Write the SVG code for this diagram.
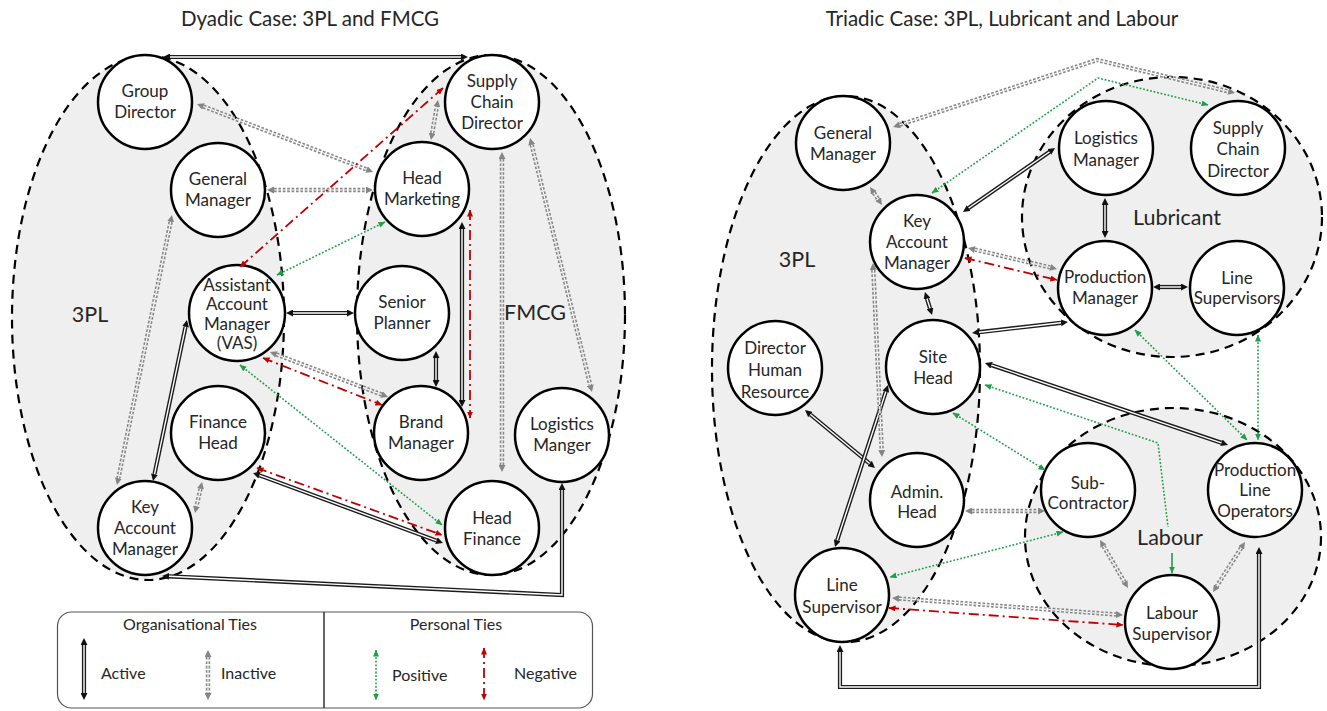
<svg xmlns="http://www.w3.org/2000/svg" width="1327" height="711" viewBox="0 0 1327 711">
<style>
text{font-family:Lato,"Open Sans","Liberation Sans",sans-serif;fill:#262626}
.t{font-size:20.5px;text-anchor:middle}
.g{font-size:21.5px;text-anchor:middle}
.n text{font-size:17px;text-anchor:middle}
.n circle{fill:#fff;stroke:#000;stroke-width:2.5}
.cl{fill:#efefef;stroke:#000;stroke-width:2.2;stroke-dasharray:9 6}
.act .o{fill:none;stroke:#1c1c1c;stroke-width:4.2;marker-start:url(#mk);marker-end:url(#mk)}
.act .i{fill:none;stroke:#fff;stroke-width:1.4}
.ina .o{fill:none;stroke:#858585;stroke-width:4.4;stroke-dasharray:2.6 1.8;marker-start:url(#mg);marker-end:url(#mg)}
.ina .i{fill:none;stroke:#fff;stroke-width:1.2;stroke-dasharray:2.6 1.8}
.pos{fill:none;stroke:#1f9e4a;stroke-width:1.6;stroke-dasharray:1.8 1.8;marker-start:url(#mp);marker-end:url(#mp)}
.neg{fill:none;stroke:#c00000;stroke-width:1.8;stroke-dasharray:10 4 2 4;marker-start:url(#mn);marker-end:url(#mn)}
.lg{font-size:16px}
</style>
<defs>
<marker id="mk" viewBox="0 0 7 7" refX="0" refY="3.5" markerWidth="7" markerHeight="7" markerUnits="userSpaceOnUse" orient="auto-start-reverse"><path d="M0,0 L7,3.5 L0,7Z" fill="#111"/></marker>
<marker id="mg" viewBox="0 0 7 7" refX="0" refY="3.5" markerWidth="7" markerHeight="7" markerUnits="userSpaceOnUse" orient="auto-start-reverse"><path d="M0,0 L7,3.5 L0,7Z" fill="#858585"/></marker>
<marker id="mp" viewBox="0 0 7 6" refX="6.5" refY="3" markerWidth="7" markerHeight="6" markerUnits="userSpaceOnUse" orient="auto-start-reverse"><path d="M0,0 L7,3 L0,6Z" fill="#1f9e4a"/></marker>
<marker id="mn" viewBox="0 0 7 6" refX="6.5" refY="3" markerWidth="7" markerHeight="6" markerUnits="userSpaceOnUse" orient="auto-start-reverse"><path d="M0,0 L7,3 L0,6Z" fill="#c00000"/></marker>
</defs>

<!-- titles -->
<text class="t" x="310" y="26">Dyadic Case: 3PL and FMCG</text>
<text class="t" x="1002" y="26">Triadic Case: 3PL, Lubricant and Labour</text>

<!-- organisation clusters -->
<g id="clusters">
<ellipse id="cl-3pl-a" class="cl" cx="148" cy="318" rx="136" ry="262"/>
<ellipse id="cl-fmcg" class="cl" cx="491" cy="315" rx="134" ry="260"/>
<ellipse id="cl-3pl-b" class="cl" cx="846" cy="369" rx="134" ry="273"/>
<ellipse id="cl-lub" class="cl" cx="1172" cy="217" rx="150" ry="140"/>
<ellipse id="cl-lab" class="cl" cx="1173" cy="537" rx="148" ry="129"/>
<text class="g" x="90" y="322">3PL</text>
<text class="g" x="535" y="320">FMCG</text>
<text class="g" x="797" y="267">3PL</text>
<text class="g" x="1177" y="225">Lubricant</text>
<text class="g" x="1170" y="545">Labour</text>
</g>

<!-- dyadic case nodes -->
<g id="d-gd" class="n"><circle cx="145" cy="102" r="47"/><text x="145" y="97">Group</text><text x="145" y="118">Director</text></g>
<g id="d-gm" class="n"><circle cx="218" cy="190" r="47"/><text x="218" y="185">General</text><text x="218" y="206">Manager</text></g>
<g id="d-aam" class="n"><circle cx="237" cy="313" r="48"/><text x="237" y="290.5">Assistant</text><text x="237" y="310">Account</text><text x="237" y="329.5">Manager</text><text x="237" y="349">(VAS)</text></g>
<g id="d-fh" class="n"><circle cx="218" cy="433" r="47"/><text x="218" y="428">Finance</text><text x="218" y="449">Head</text></g>
<g id="d-kam" class="n"><circle cx="145" cy="528" r="47"/><text x="145" y="512.5">Key</text><text x="145" y="533.5">Account</text><text x="145" y="554.5">Manager</text></g>
<g id="d-scd" class="n"><circle cx="492" cy="102" r="47"/><text x="492" y="86.5">Supply</text><text x="492" y="107.5">Chain</text><text x="492" y="128.5">Director</text></g>
<g id="d-hm" class="n"><circle cx="422" cy="189" r="47"/><text x="422" y="184">Head</text><text x="422" y="205">Marketing</text></g>
<g id="d-sp" class="n"><circle cx="402" cy="313" r="47"/><text x="402" y="308">Senior</text><text x="402" y="329">Planner</text></g>
<g id="d-bm" class="n"><circle cx="421" cy="433" r="47"/><text x="421" y="428">Brand</text><text x="421" y="449">Manager</text></g>
<g id="d-lm" class="n"><circle cx="562" cy="435" r="47"/><text x="562" y="430">Logistics</text><text x="562" y="451">Manger</text></g>
<g id="d-hf" class="n"><circle cx="492" cy="528" r="47"/><text x="492" y="523.5">Head</text><text x="492" y="544.5">Finance</text></g>

<!-- triadic case nodes -->
<g id="t-gm" class="n"><circle cx="843" cy="143" r="47"/><text x="843" y="138.5">General</text><text x="843" y="160">Manager</text></g>
<g id="t-kam" class="n"><circle cx="917" cy="242" r="47"/><text x="917" y="226.5">Key</text><text x="917" y="247.5">Account</text><text x="917" y="268.5">Manager</text></g>
<g id="t-dhr" class="n"><circle cx="775" cy="368" r="47"/><text x="775" y="353.5">Director</text><text x="775" y="375.5">Human</text><text x="775" y="397.5">Resource</text></g>
<g id="t-sh" class="n"><circle cx="933" cy="367" r="47"/><text x="933" y="362.5">Site</text><text x="933" y="383.5">Head</text></g>
<g id="t-ah" class="n"><circle cx="917" cy="500" r="47"/><text x="917" y="497.5">Admin.</text><text x="917" y="517.5">Head</text></g>
<g id="t-ls" class="n"><circle cx="842" cy="595" r="47"/><text x="842" y="590.5">Line</text><text x="842" y="612.5">Supervisor</text></g>
<g id="t-lm" class="n"><circle cx="1106" cy="148" r="47"/><text x="1106" y="143.5">Logistics</text><text x="1106" y="165.5">Manager</text></g>
<g id="t-scd" class="n"><circle cx="1238" cy="148" r="47"/><text x="1238" y="133.5">Supply</text><text x="1238" y="154.5">Chain</text><text x="1238" y="176.5">Director</text></g>
<g id="t-pm" class="n"><circle cx="1105" cy="288" r="47"/><text x="1105" y="282.5">Production</text><text x="1105" y="303.5">Manager</text></g>
<g id="t-lss" class="n"><circle cx="1237" cy="288" r="47"/><text x="1237" y="283.5">Line</text><text x="1237" y="303.5">Supervisors</text></g>
<g id="t-sc" class="n"><circle cx="1088" cy="490" r="47"/><text x="1088" y="488.5">Sub-</text><text x="1088" y="508.5">Contractor</text></g>
<g id="t-plo" class="n"><circle cx="1255" cy="490" r="47"/><text x="1255" y="475.5">Production</text><text x="1255" y="495.5">Line</text><text x="1255" y="516.5">Operators</text></g>
<g id="t-labs" class="n"><circle cx="1172" cy="622" r="47"/><text x="1172" y="618.5">Labour</text><text x="1172" y="639.5">Supervisor</text></g>

<!-- ties -->
<g id="connectors">
<!-- dyadic: active organisational ties -->
<g class="act"><path class="o" d="M170,57 H461"/><path class="i" d="M170,57 H461"/></g>
<g class="act"><path class="o" d="M293,313 H347"/><path class="i" d="M293,313 H347"/></g>
<g class="act"><path class="o" d="M462,229 V400"/><path class="i" d="M462,229 V400"/></g>
<g class="act"><path class="o" d="M436,358 V380"/><path class="i" d="M436,358 V380"/></g>
<g class="act"><path class="o" d="M259.6,475.4 L436.4,540.6"/><path class="i" d="M259.6,475.4 L436.4,540.6"/></g>
<g class="act"><path class="o" d="M185.5,326.9 L154.5,474.1"/><path class="i" d="M185.5,326.9 L154.5,474.1"/></g>
<g class="act"><path class="o" d="M562,490 V595 L169,576.3"/><path class="i" d="M562,490 V595 L169,576.3"/></g>
<!-- dyadic: inactive organisational ties -->
<g class="ina"><path class="o" d="M203.5,106.5 L366.5,169.5"/><path class="i" d="M203.5,106.5 L366.5,169.5"/></g>
<g class="ina"><path class="o" d="M274,190 H366"/><path class="i" d="M274,190 H366"/></g>
<g class="ina"><path class="o" d="M432.2,133.1 L436.8,106.9"/><path class="i" d="M432.2,133.1 L436.8,106.9"/></g>
<g class="ina"><path class="o" d="M502,159 V465"/><path class="i" d="M502,159 V465"/></g>
<g class="ina"><path class="o" d="M531.7,144.8 L590.3,385.2"/><path class="i" d="M531.7,144.8 L590.3,385.2"/></g>
<g class="ina"><path class="o" d="M276.5,354.5 L381.5,394.5"/><path class="i" d="M276.5,354.5 L381.5,394.5"/></g>
<g class="ina"><path class="o" d="M170.6,221.9 L118.4,478.1"/><path class="i" d="M170.6,221.9 L118.4,478.1"/></g>
<g class="ina"><path class="o" d="M200.5,488.8 L196.5,506.2"/><path class="i" d="M200.5,488.8 L196.5,506.2"/></g>
<!-- dyadic: personal ties -->
<path class="pos" d="M385,222 L277,275"/>
<path class="pos" d="M240,365 L442,525"/>
<path class="neg" d="M443,88 L240,267"/>
<path class="neg" d="M470,210 V418"/>
<path class="neg" d="M263,358 L382,405"/>
<path class="neg" d="M257,468 L442,535"/>

<!-- triadic: active organisational ties -->
<g class="act"><path class="o" d="M968.7,208 L1049.3,152"/><path class="i" d="M968.7,208 L1049.3,152"/></g>
<g class="act"><path class="o" d="M1105,205 V231"/><path class="i" d="M1105,205 V231"/></g>
<g class="act"><path class="o" d="M1160,287 H1181"/><path class="i" d="M1160,287 H1181"/></g>
<g class="act"><path class="o" d="M927,298.7 L930,308.3"/><path class="i" d="M927,298.7 L930,308.3"/></g>
<g class="act"><path class="o" d="M979,332.2 L1061,322.8"/><path class="i" d="M979,332.2 L1061,322.8"/></g>
<g class="act"><path class="o" d="M991.6,365.2 L1221.4,442.8"/><path class="i" d="M991.6,365.2 L1221.4,442.8"/></g>
<g class="act"><path class="o" d="M810.4,414.5 L869.6,463.5"/><path class="i" d="M810.4,414.5 L869.6,463.5"/></g>
<g class="act"><path class="o" d="M885.8,391.7 L837.2,540.3"/><path class="i" d="M885.8,391.7 L837.2,540.3"/></g>
<g class="act"><path class="o" d="M1259,554 V687 H840 V652"/><path class="i" d="M1259,554 V687 H840 V652"/></g>
<!-- triadic: inactive organisational ties -->
<g class="ina"><path class="o" d="M899.7,124.8 L1097,60 L1228.2,91.4"/><path class="i" d="M899.7,124.8 L1097,60 L1228.2,91.4"/></g>
<g class="ina"><path class="o" d="M974.8,249.6 L1050.2,267.4"/><path class="i" d="M974.8,249.6 L1050.2,267.4"/></g>
<g class="ina"><path class="o" d="M873.3,270 L881.7,450"/><path class="i" d="M873.3,270 L881.7,450"/></g>
<g class="ina"><path class="o" d="M873.9,192.8 L878.1,199.2"/><path class="i" d="M873.9,192.8 L878.1,199.2"/></g>
<g class="ina"><path class="o" d="M972,511 H1038"/><path class="i" d="M972,511 H1038"/></g>
<g class="ina"><path class="o" d="M899,598.5 L1116,614.5"/><path class="i" d="M899,598.5 L1116,614.5"/></g>
<g class="ina"><path class="o" d="M1103.5,546 L1124.5,582"/><path class="i" d="M1103.5,546 L1124.5,582"/></g>
<g class="ina"><path class="o" d="M1241.2,547.9 L1216.8,586.1"/><path class="i" d="M1241.2,547.9 L1216.8,586.1"/></g>
<!-- triadic: personal ties -->
<path class="pos" d="M932,193 L1098,78 L1208,105"/>
<path class="pos" d="M953,413 L1045,470"/>
<path class="pos" d="M985,385 L1158,443 L1168,527" style="marker-end:none"/>
<path class="pos" d="M1172,553 V573" style="stroke-dasharray:none;marker-start:none"/>
<path class="pos" d="M1135,330 L1247,440"/>
<path class="pos" d="M1258,335 V440"/>
<path class="pos" d="M1063,532 L890,577"/>
<path class="neg" d="M965,258 L1057,280"/>
<path class="neg" d="M889,608 L1123,625"/>
</g>

<!-- key -->
<g id="legend">
<rect x="57.5" y="612" width="535" height="96" rx="14" fill="#fff" stroke="#555" stroke-width="1.2"/>
<line x1="324" y1="612" x2="324" y2="708" stroke="#333" stroke-width="1.5"/>
<text class="lg" x="190" y="630" text-anchor="middle">Organisational Ties</text>
<text class="lg" x="456" y="630" text-anchor="middle">Personal Ties</text>
<g class="act"><path class="o" d="M84,645 V693"/><path class="i" d="M84,645 V693"/></g>
<text class="lg" x="101" y="679">Active</text>
<g class="ina"><path class="o" d="M208,657 V693"/><path class="i" d="M208,657 V693"/></g>
<text class="lg" x="221" y="679">Inactive</text>
<path class="pos" d="M376,650 V700"/>
<text class="lg" x="392" y="681">Positive</text>
<path class="neg" d="M484,648 V700"/>
<text class="lg" x="514" y="679">Negative</text>
</g>
</svg>
